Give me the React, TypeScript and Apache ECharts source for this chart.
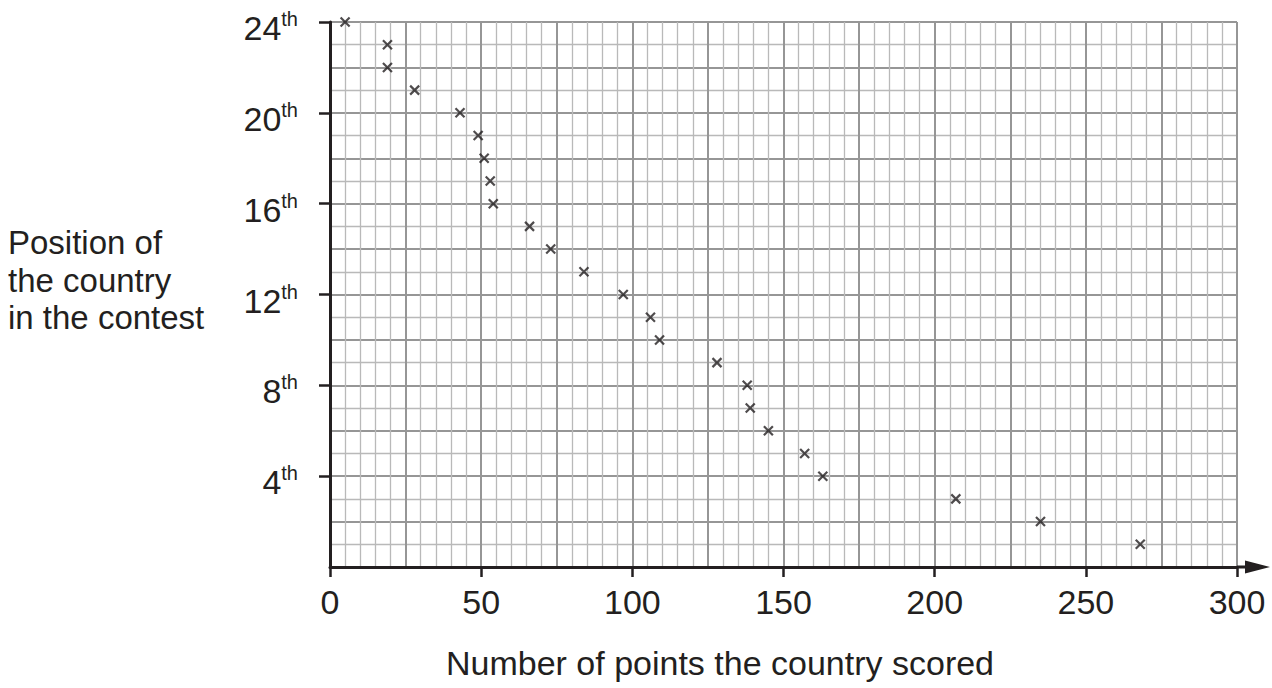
import React, { useEffect, useRef } from "react";
import * as echarts from "echarts";

// Position in the contest (1st = winner) and points scored
const positions = [24, 23, 22, 21, 20, 19, 18, 17, 16, 15, 14, 13, 12, 11, 10, 9, 8, 7, 6, 5, 4, 3, 2, 1];
const points = [5, 19, 19, 28, 43, 49, 51, 53, 54, 66, 73, 84, 97, 106, 109, 128, 138, 139, 145, 157, 163, 207, 235, 268];

const xTickValues = [0, 50, 100, 150, 200, 250, 300];
const yTickValues = [4, 8, 12, 16, 20, 24];

const xTitle = "Number of points the country scored";
const yTitle = "Position of\nthe country\nin the contest";

const FONT = "'Liberation Sans', Arial, Helvetica, sans-serif";
const INK = "#231f20";

export default function App() {
  const ref = useRef<HTMLDivElement>(null);

  useEffect(() => {
    if (!ref.current) return;
    const chart = echarts.init(ref.current, undefined, { renderer: "svg" });

    const data = points.map((p, i) => [p, positions[i]]);

    const option: any = {
      animation: false,
      grid: { left: 330, right: 35, top: 22, bottom: 121, containLabel: false },
      xAxis: [
        {
          type: "value",
          position: "bottom",
          min: 0,
          max: 300,
          interval: 25,
          axisLine: { show: false },
          axisTick: { show: false },
          axisLabel: { show: false },
          splitLine: { show: true, lineStyle: { color: "#969696", width: 2 } },
          minorTick: { show: false, splitNumber: 5 },
          minorSplitLine: { show: true, lineStyle: { color: "#b9b9b9", width: 1.3 } },
        },
        {
          type: "value",
          position: "bottom",
          min: 0,
          max: 300,
          interval: 50,
          axisLine: {
            show: true,
            onZero: false,
            lineStyle: { color: INK, width: 3 },
            symbol: ["none", "path://M6.5,0 L13,25 L8,25 L8,33 L5,33 L5,25 L0,25 Z"],
            symbolSize: [13, 33],
            symbolOffset: [0, 16.5],
          },
          axisTick: {
            show: true,
            length: 10,
            customValues: xTickValues,
            lineStyle: { color: INK, width: 2.5 },
          },
          axisLabel: {
            show: true,
            customValues: xTickValues,
            margin: 18,
            fontSize: 34,
            fontFamily: FONT,
            color: INK,
          },
          splitLine: { show: false },
        },
      ],
      yAxis: [
        {
          type: "value",
          position: "left",
          min: 0,
          max: 24,
          interval: 2,
          axisLine: { show: false },
          axisTick: { show: false },
          axisLabel: { show: false },
          splitLine: { show: true, lineStyle: { color: "#969696", width: 2 } },
          minorTick: { show: false, splitNumber: 2 },
          minorSplitLine: { show: true, lineStyle: { color: "#b9b9b9", width: 1.3 } },
        },
        {
          type: "value",
          position: "left",
          min: 0,
          max: 24,
          interval: 4,
          axisLine: { show: true, onZero: false, lineStyle: { color: INK, width: 3 } },
          axisTick: {
            show: true,
            length: 11,
            customValues: yTickValues,
            lineStyle: { color: INK, width: 2.5 },
          },
          axisLabel: {
            show: true,
            customValues: yTickValues,
            margin: 32,
            padding: [12, 0, 0, 0],
            formatter: (v: number) => `{n|${v}}{s|th}`,
            rich: {
              n: { fontSize: 34, lineHeight: 38, fontFamily: FONT, color: INK },
              s: { fontSize: 20, lineHeight: 16, verticalAlign: "top", fontFamily: FONT, color: INK },
            },
          },
          splitLine: { show: false },
        },
      ],
      series: [
        {
          type: "scatter",
          xAxisIndex: 1,
          yAxisIndex: 1,
          data,
          symbol: "path://M0,0L10,10M10,0L0,10",
          symbolSize: 9,
          itemStyle: { color: "rgba(0,0,0,0)", borderColor: INK, borderWidth: 2.2 },
          emphasis: { disabled: true },
          z: 5,
        },
      ],
      graphic: [
        {
          type: "text",
          left: 8,
          top: 224,
          style: {
            text: yTitle,
            font: `33px ${FONT}`,
            lineHeight: 37.5,
            fill: INK,
            textAlign: "left",
            textVerticalAlign: "top",
          },
        },
        {
          type: "text",
          x: 720,
          y: 646,
          style: {
            text: xTitle,
            font: `34px ${FONT}`,
            lineHeight: 34,
            fill: INK,
            textAlign: "center",
            textVerticalAlign: "top",
          },
        },
      ],
    };

    chart.setOption(option);
    return () => chart.dispose();
  }, []);

  return (
    <div
      ref={ref}
      style={{ position: "fixed", left: 0, top: 0, width: 1272, height: 688, background: "#fff" }}
    />
  );
}
